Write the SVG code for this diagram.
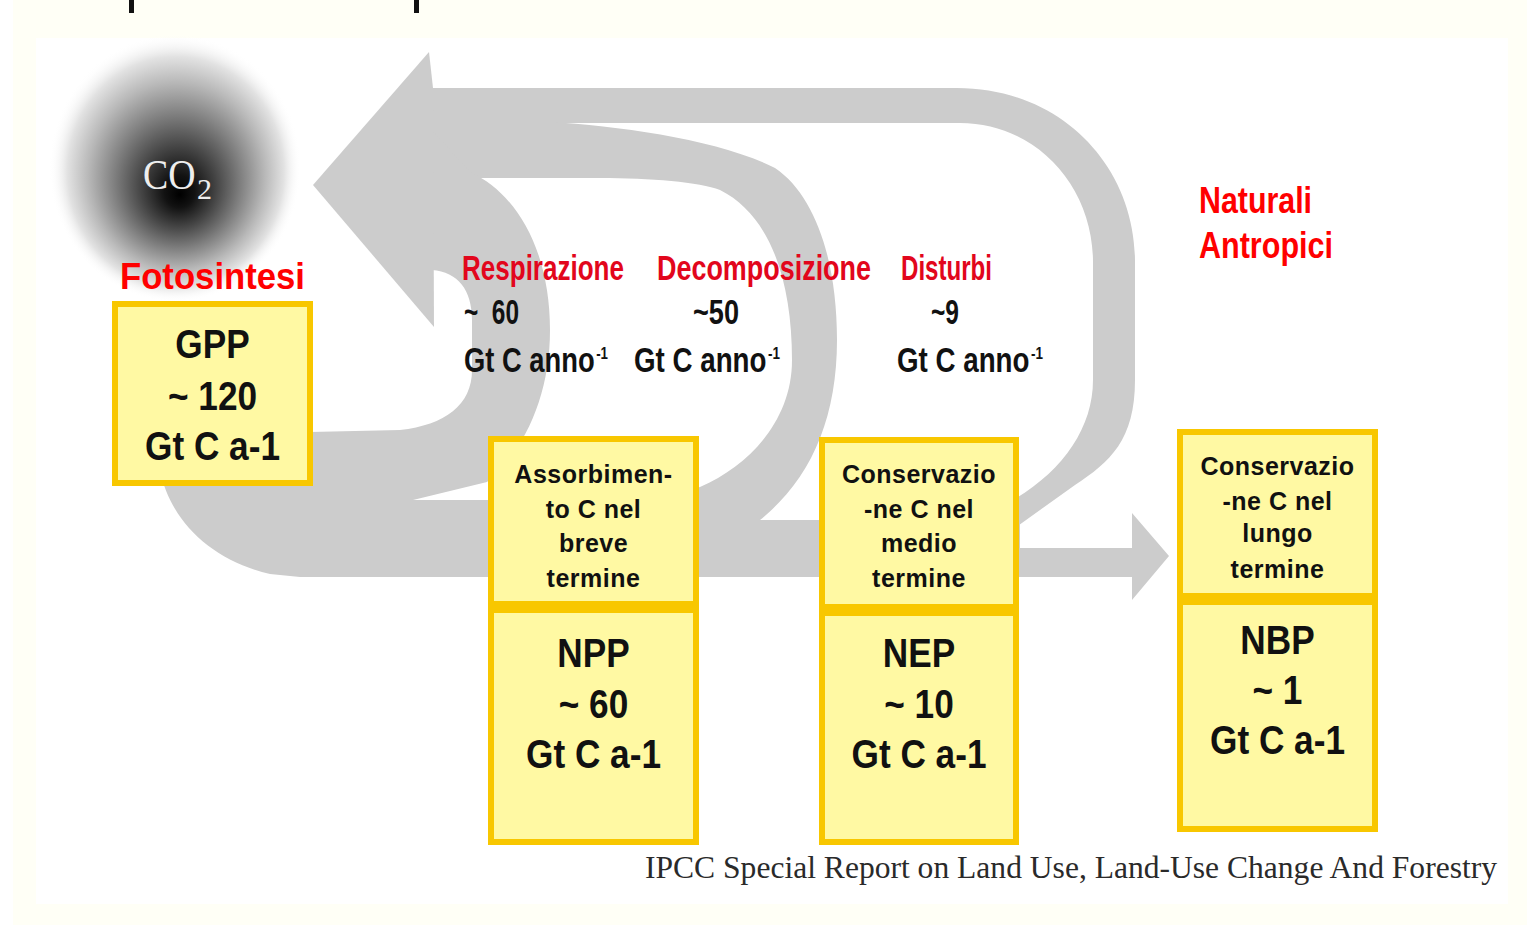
<svg xmlns="http://www.w3.org/2000/svg" width="1530" height="927" viewBox="0 0 1530 927">
<defs>
<radialGradient id="co2g" cx="0.5" cy="0.5" r="0.5" fx="0.52" fy="0.6">
 <stop offset="0" stop-color="#000"/>
 <stop offset="0.12" stop-color="#121212"/>
 <stop offset="0.3" stop-color="#454545"/>
 <stop offset="0.5" stop-color="#7f7f7f"/>
 <stop offset="0.7" stop-color="#b8b8b8"/>
 <stop offset="0.86" stop-color="#e2e2e2"/>
 <stop offset="1" stop-color="#fff" stop-opacity="0"/>
</radialGradient>
<style>
.box{fill:#fff9a3;stroke:#f8c700;stroke-width:6}
.big{font-family:"Liberation Sans",Arial,sans-serif;font-weight:bold;font-size:40px;fill:#111;text-anchor:middle}
.small{font-family:"Liberation Sans",Arial,sans-serif;font-weight:bold;font-size:25px;fill:#111;text-anchor:middle;letter-spacing:0.5px}
.red{font-family:"Liberation Sans",Arial,sans-serif;font-weight:bold;fill:#ff0000;font-size:37px}
.flux{font-family:"Liberation Sans",Arial,sans-serif;font-weight:bold;font-size:35px}
.fr{fill:#e2061c}
.fb{fill:#111}
.sup{font-size:17px}
.arrow{fill:#cccccc}
</style>
</defs>

<rect x="0" y="0" width="1530" height="927" fill="#ffffff"/>
<rect x="13" y="0" width="1514" height="925" fill="#fffff6"/>
<rect x="36" y="38" width="1472" height="866" fill="#ffffff"/>
<rect x="129" y="0" width="5" height="13" fill="#111"/>
<rect x="414" y="0" width="5" height="13" fill="#111"/>

<g id="co2">
 <ellipse cx="175" cy="168" rx="126" ry="134" fill="url(#co2g)"/>
 <text x="143" y="189" font-family="'Liberation Serif','Times New Roman',serif" font-size="42" fill="#eeeeee" transform="translate(143,0) scale(0.9,1) translate(-143,0)">CO</text>
 <text x="197" y="199" font-family="'Liberation Serif','Times New Roman',serif" font-size="30" fill="#eeeeee">2</text>
</g>

<g id="connectors">
 <!-- outer loop (disturbi) -->
 <path class="arrow" d="M432,88 L957,88 C1060,88 1135,165 1135,262 L1135,380 C1135,440 1110,462 1075,485 L1012,530 L1006,504 C1060,475 1093,430 1093,380 L1093,262 C1093,185 1035,123 960,123 L432,123 Z"/>
 <!-- middle loop (decomposizione) -->
 <path class="arrow" d="M432,122 L550,122 C620,126 720,140 775,168 C815,195 837,260 837,340 C837,420 810,480 760,520 L696,520 L696,488 L700,487 C750,465 792,420 792,360 C792,280 770,215 720,190 C700,182 650,178 600,178 L432,178 Z"/>
 <!-- inner loop (respirazione) + main band -->
 <path class="arrow" d="M160,470 C170,520 210,560 270,574 L300,577 L1132,577 L1132,600 L1169,556 L1132,513 L1132,548 L1020,548 L1020,520 L698,520 L698,500 L413,500 L487,482 C525,450 550,395 550,330 C550,255 520,195 470,172 L432,130 L432,270 C458,272 472,290 472,320 L472,370 C472,405 445,425 400,430 L310,432 L160,460 Z"/>
 <!-- left arrowhead -->
 <path class="arrow" d="M313,185 L429,52 L433,88 L434,327 Z"/>
</g>

<g id="label-fotosintesi">
 <text class="red" x="120" y="289" textLength="185" lengthAdjust="spacingAndGlyphs">Fotosintesi</text>
</g>
<g id="label-naturali">
 <text class="red" x="1199" y="213" textLength="113" lengthAdjust="spacingAndGlyphs">Naturali</text>
 <text class="red" x="1199" y="258" textLength="134" lengthAdjust="spacingAndGlyphs">Antropici</text>
</g>

<g id="label-respirazione">
 <text class="flux fr" x="462" y="280" textLength="162" lengthAdjust="spacingAndGlyphs">Respirazione</text>
 <text class="flux fb" x="464" y="324" textLength="55" lengthAdjust="spacingAndGlyphs">~&#160;&#160;60</text>
 <text class="flux fb" x="464" y="372" textLength="144" lengthAdjust="spacingAndGlyphs">Gt C anno<tspan class="sup" dx="2" dy="-13">-1</tspan></text>
</g>
<g id="label-decomposizione">
 <text class="flux fr" x="657" y="280" textLength="214" lengthAdjust="spacingAndGlyphs">Decomposizione</text>
 <text class="flux fb" x="693" y="324" textLength="46" lengthAdjust="spacingAndGlyphs">~50</text>
 <text class="flux fb" x="634" y="372" textLength="146" lengthAdjust="spacingAndGlyphs">Gt C anno<tspan class="sup" dx="2" dy="-13">-1</tspan></text>
</g>
<g id="label-disturbi">
 <text class="flux fr" x="901" y="280" textLength="91" lengthAdjust="spacingAndGlyphs">Disturbi</text>
 <text class="flux fb" x="931" y="324" textLength="28" lengthAdjust="spacingAndGlyphs">~9</text>
 <text class="flux fb" x="897" y="372" textLength="146" lengthAdjust="spacingAndGlyphs">Gt C anno<tspan class="sup" dx="2" dy="-13">-1</tspan></text>
</g>

<g id="node-gpp">
 <rect class="box" x="115" y="304" width="195" height="179"/>
 <text class="big" transform="translate(212.5,358) scale(0.88,1)">GPP</text>
 <text class="big" transform="translate(212.5,410) scale(0.88,1)">~ 120</text>
 <text class="big" transform="translate(212.5,460) scale(0.88,1)">Gt C a-1</text>
</g>

<g id="node-breve">
 <rect class="box" x="491" y="439" width="205" height="165"/>
 <text class="small" x="593.5" y="483">Assorbimen-</text>
 <text class="small" x="593.5" y="518">to C nel</text>
 <text class="small" x="593.5" y="552">breve</text>
 <text class="small" x="593.5" y="587">termine</text>
</g>
<g id="node-npp">
 <rect class="box" x="491" y="610" width="205" height="232"/>
 <text class="big" transform="translate(593.5,667) scale(0.88,1)">NPP</text>
 <text class="big" transform="translate(593.5,718) scale(0.88,1)">~ 60</text>
 <text class="big" transform="translate(593.5,768) scale(0.88,1)">Gt C a-1</text>
</g>

<g id="node-medio">
 <rect class="box" x="822" y="440" width="194" height="167"/>
 <text class="small" x="919" y="483">Conservazio</text>
 <text class="small" x="919" y="518">-ne C nel</text>
 <text class="small" x="919" y="552">medio</text>
 <text class="small" x="919" y="587">termine</text>
</g>
<g id="node-nep">
 <rect class="box" x="822" y="613" width="194" height="229"/>
 <text class="big" transform="translate(919,667) scale(0.88,1)">NEP</text>
 <text class="big" transform="translate(919,718) scale(0.88,1)">~ 10</text>
 <text class="big" transform="translate(919,768) scale(0.88,1)">Gt C a-1</text>
</g>

<g id="node-lungo">
 <rect class="box" x="1180" y="432" width="195" height="164"/>
 <text class="small" x="1277.5" y="475">Conservazio</text>
 <text class="small" x="1277.5" y="510">-ne C nel</text>
 <text class="small" x="1277.5" y="542">lungo</text>
 <text class="small" x="1277.5" y="578">termine</text>
</g>
<g id="node-nbp">
 <rect class="box" x="1180" y="602" width="195" height="227"/>
 <text class="big" transform="translate(1277.5,654) scale(0.88,1)">NBP</text>
 <text class="big" transform="translate(1277.5,704) scale(0.88,1)">~ 1</text>
 <text class="big" transform="translate(1277.5,754) scale(0.88,1)">Gt C a-1</text>
</g>

<g id="citation">
 <text x="645" y="878" font-family="'Liberation Serif','Times New Roman',serif" font-size="31.5" fill="#2a2a2a" textLength="852" lengthAdjust="spacingAndGlyphs">IPCC Special Report on Land Use, Land-Use Change And Forestry</text>
</g>
</svg>
